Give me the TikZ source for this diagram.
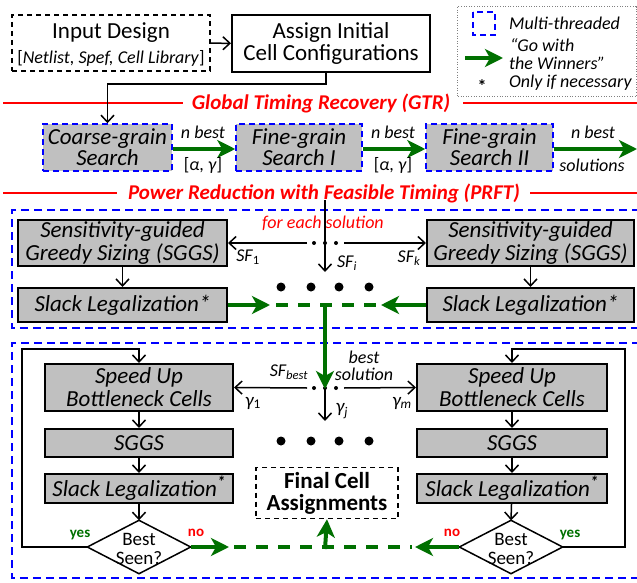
\documentclass[tikz,border=0pt]{standalone}
\usepackage{fontspec}
\setmainfont{Carlito}
\usetikzlibrary{arrows.meta}
\definecolor{gg}{RGB}{0,112,0}
\definecolor{bb}{RGB}{0,0,255}
\definecolor{rr}{RGB}{255,0,0}
\definecolor{boxgray}{RGB}{192,192,192}
\newcommand\fsz[2]{\fontsize{#1}{#2}\selectfont}
\begin{document}
\begin{tikzpicture}[x=1pt,y=-1pt,
 box/.style={draw=black,line width=2pt,fill=boxgray,inner sep=0pt,align=center,font=\fsz{23}{23}\itshape},
 mt/.style={draw=bb,line width=1.5pt,dash pattern=on 6pt off 4pt,fill=boxgray,inner sep=0pt,align=center,font=\fsz{23}{21}\itshape},
 arr/.style={line width=1.5pt,-{Straight Barb[length=7pt,width=13pt]}},
 garr/.style={draw=gg,line width=4pt,-{Stealth[length=18pt,width=18pt,inset=5pt]}},
 gdash/.style={draw=gg,line width=4pt,dash pattern=on 12pt off 10pt},
 lab/.style={font=\fsz{18}{19}\itshape,inner sep=0pt},
 head/.style={font=\fsz{21}{21}\bfseries\itshape,text=rr,inner sep=0pt},
 redline/.style={draw=rr,line width=1.5pt},
 dnode/.style={minimum width=103pt,minimum height=53pt,inner sep=0pt},
 dtext/.style={font=\fsz{19}{19},align=center,inner sep=0pt},
 yes/.style={font=\fsz{15}{15}\bfseries,text=gg,inner sep=0pt},
 no/.style={font=\fsz{15}{15}\bfseries,text=rr,inner sep=0pt},
 bigdot/.style={fill=black,circle,minimum size=9pt,inner sep=0pt},
 smalldot/.style={fill=black,circle,minimum size=4pt,inner sep=0pt},
 leg/.style={font=\fsz{18}{18}\itshape,anchor=west,inner sep=0pt},
 multi/.style={draw=bb,line width=1.5pt,dash pattern=on 8pt off 5pt}
]
\useasboundingbox (0,0) rectangle (637,583);

% top
\node[draw,line width=1.5pt,dash pattern=on 5pt off 4pt,minimum width=198pt,minimum height=56pt,inner sep=0pt] (inp) at (111,43) {};
\node[font=\fsz{23}{23},inner sep=0pt] (inp1) at (111,33) {Input Design};
\node[font=\fsz{18}{18},inner sep=0pt] (inp2) at (111,58) {[\textit{Netlist, Spef, Cell Library}]};
\node[draw,line width=2pt,minimum width=198pt,minimum height=57pt,inner sep=0pt,align=center,font=\fsz{23}{22}] (asg) at (331,43.5)
  {Assign Initial\\Cell Configurations};
\draw[arr] (inp) -- (asg);

% legend
\draw[gray,line width=1pt,dash pattern=on 1pt off 1.6pt] (457,7) rectangle (636,97);
\draw[bb,line width=1.5pt,dash pattern=on 6pt off 4pt] (473,12) rectangle (495,35);
\coordinate (la) at (465,58); \coordinate (lb) at (503,58);
\draw[garr] (la) -- (lb);
\node[leg] (l1) at (509,23) {Multi-threaded};
\node[leg] (l2) at (510,45) {“Go with};
\node[leg] (l3) at (509,63) {the Winners”};
\node[font=\fsz{18}{18}\bfseries,inner sep=0pt] (l4) at (482,86) {*};
\node[leg] (l5) at (509,83) {Only if necessary};

% GTR
\node[head] (gtr) at (321,103) {Global Timing Recovery (GTR)};
\draw[redline] (3,103) -- (183,103);
\draw[redline] (463,103) -- (637,103);
\node[mt,minimum width=129pt,minimum height=47pt] (coarse) at (107.5,147.5) {Coarse-grain\\Search};
\node[mt,minimum width=126pt,minimum height=47pt] (fine1) at (299,147.5) {Fine-grain\\Search I};
\node[mt,minimum width=127pt,minimum height=47pt] (fine2) at (489.5,147.5) {Fine-grain\\Search II};
\draw[arr] ([xshift=-5pt]asg.south) -- ++(0,11) -| (coarse.north);
\coordinate (gend) at (637,149);
\draw[garr] (coarse.east|-0,149) -- (fine1.west|-0,149);
\draw[garr] (fine1.east|-0,149) -- (fine2.west|-0,149);
\draw[garr] (fine2.east|-0,149) -- (gend);
\node[lab] (nb1) at (203,132) {n best};
\node[lab,font=\fsz{18}{19}] (ag1) at (203,165) {[\textit{α}, \textit{γ}]};
\node[lab] (nb2) at (393,132) {n best};
\node[lab,font=\fsz{18}{19}] (ag2) at (393,165) {[\textit{α}, \textit{γ}]};
\node[lab] (nb3) at (593,132) {n best};
\node[lab] (sol) at (592,165) {solutions};

% PRFT
\node[head] (prft) at (324,193) {Power Reduction with Feasible Timing (PRFT)};
\draw[redline] (3,193) -- (117,193);
\draw[redline] (530,193) -- (637,193);
\draw[multi] (640,210) -- (12,210) -- (12,328) -- (640,328);
\node[box,minimum width=209pt,minimum height=46pt] (sgL) at (122.5,243) {Sensitivity-guided\\Greedy Sizing (SGGS)};
\node[box,minimum width=207pt,minimum height=46pt] (sgR) at (530.5,243) {Sensitivity-guided\\Greedy Sizing (SGGS)};
\node[box,minimum width=209pt,minimum height=34pt] (slL) at (122.5,305) {Slack Legalization*};
\node[box,minimum width=207pt,minimum height=34pt] (slR) at (530.5,305) {Slack Legalization*};
\draw[arr] (sgL) -- (slL);
\draw[arr] (sgR) -- (slR);
\node[font=\fsz{18}{18}\itshape,text=rr,inner sep=0pt] (fes) at (323,223) {for each solution};
\coordinate (vtop) at (325,200);
\coordinate (vbot) at (325,272);
\node[smalldot] (d1) at (314,243) {};
\node[smalldot] (d2) at (325,243) {};
\node[smalldot] (d3) at (336,243) {};
\coordinate (al) at (307,243); \coordinate (ar) at (344,243);
\draw[arr] (vtop) -- (vbot);
\draw[arr] (al) -- (sgL.east);
\draw[arr] (ar) -- (sgR.west);
\node[lab] (sf1) at (248,257) {SF\textsubscript{\upshape 1}};
\node[lab] (sfk) at (409,258) {SF\textsubscript{k}};
\node[lab] (sfi) at (347,263) {SF\textsubscript{i}};
\node[bigdot] (e1) at (281,287) {};
\node[bigdot] (e2) at (311,287) {};
\node[bigdot] (e3) at (339,287) {};
\node[bigdot] (e4) at (369,287) {};
\coordinate (gl) at (270,305); \coordinate (gr) at (381,305);
\coordinate (gm) at (325,305); \coordinate (gdown) at (325,389);
\draw[gdash] (276,305) -- (378,305);
\draw[garr] (slL) -- (gl);
\draw[garr] (slR) -- (gr);

% lower section
\draw[multi] (640,343) -- (12,343) -- (12,578) -- (640,578);
\node[box,minimum width=188pt,minimum height=47pt] (suL) at (139,387.5) {Speed Up\\Bottleneck Cells};
\node[box,minimum width=188pt,minimum height=28pt] (ggL) at (139,443) {SGGS};
\node[box,minimum width=188pt,minimum height=29pt] (lgL) at (139,488.5) {Slack Legalization\textsuperscript{\bfseries *}};
\node[box,minimum width=190pt,minimum height=47pt] (suR) at (512,387.5) {Speed Up\\Bottleneck Cells};
\node[box,minimum width=190pt,minimum height=28pt] (ggR) at (512,443) {SGGS};
\node[box,minimum width=190pt,minimum height=29pt] (lgR) at (512,488.5) {Slack Legalization\textsuperscript{\bfseries *}};
\node[dnode] (dmL) at (139,547) {};
\node[dnode] (dmR) at (511,547) {};
\draw[line width=1.5pt,fill=white] (dmL.west) -- (dmL.north) -- (dmL.east) -- (dmL.south) -- cycle;
\draw[line width=1.5pt,fill=white] (dmR.west) -- (dmR.north) -- (dmR.east) -- (dmR.south) -- cycle;
\node[dtext] (tL) at (139,549) {Best\\Seen?};
\node[dtext] (tR) at (511,549) {Best\\Seen?};
\draw[arr] (suL) -- (ggL);
\draw[arr] (ggL) -- (lgL);
\draw[arr] (lgL) -- (dmL.north);
\draw[arr] (suR) -- (ggR);
\draw[arr] (ggR) -- (lgR);
\draw[arr] (lgR) -- (dmR.north);
\draw[arr] (dmL.west) -| (22,349) -| (suL.north);
\draw[arr] (dmR.east) -| (625,349) -| (suR.north);
\node[yes] (y1) at (80,535) {yes};
\node[no] (n1) at (196,533) {no};
\node[yes] (y2) at (570,535) {yes};
\node[no] (n2) at (452,533) {no};

\node[draw,line width=1.5pt,dash pattern=on 5pt off 4pt,minimum width=142pt,minimum height=51pt,inner sep=0pt,align=center,font=\fsz{23}{22}\bfseries] (fin) at (327,493) {Final Cell\\Assignments};

\node[smalldot] (c1) at (314,388) {};
\node[smalldot] (c2) at (325,388) {};
\node[smalldot] (c3) at (336,388) {};
\coordinate (bl) at (307,388); \coordinate (br) at (344,388); \coordinate (bd) at (325,421);
\draw[arr] (bl) -- (suL.east);
\draw[arr] (br) -- (suR.west);
\draw[arr] (c2.center) -- (bd);
\draw[garr] (gm) -- (gdown);
\node[lab] (sfb) at (289,372) {SF\textsubscript{best}};
\node[lab,align=center,font=\fsz{18}{17}\itshape] (bs) at (364,366) {best\\solution};
\node[lab,font=\fsz{19}{19}\itshape] (g1) at (253,403) {γ\textsubscript{\upshape 1}};
\node[lab,font=\fsz{19}{19}\itshape] (gmm) at (402,403) {γ\textsubscript{m}};
\node[lab,font=\fsz{19}{19}\itshape] (gj) at (342,411) {γ\textsubscript{j}};
\node[bigdot] (f1) at (281,441) {};
\node[bigdot] (f2) at (311,441) {};
\node[bigdot] (f3) at (339,441) {};
\node[bigdot] (f4) at (369,441) {};

\coordinate (hl) at (229,547); \coordinate (hr) at (415,547); \coordinate (hm) at (325,549);
\draw[gdash] (234,547) -- (412,547);
\draw[garr] (dmL.east) -- (hl);
\draw[garr] (dmR.west) -- (hr);
\draw[garr] (hm) -- (fin.south);
\end{tikzpicture}
\end{document}
